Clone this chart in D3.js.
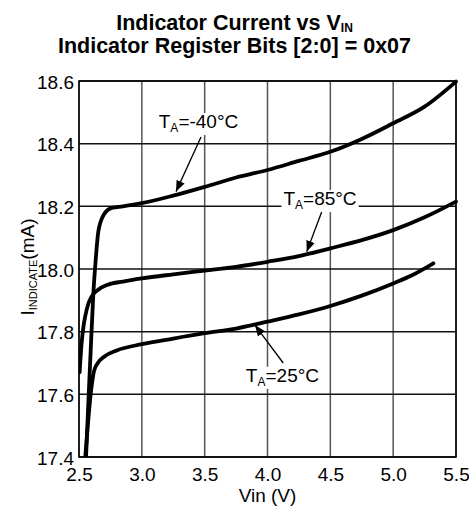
<!DOCTYPE html>
<html>
<head>
<meta charset="utf-8">
<script src="https://cdn.jsdelivr.net/npm/d3@7"></script>
<style>
  html, body { margin: 0; padding: 0; background: #fff; }
  svg { display: block; font-family: "Liberation Sans", Arial, Helvetica, sans-serif; }
</style>
</head>
<body>
<svg id="chart" width="469" height="513"></svg>
<script>
// ---- data ----
const xTicks = [2.5, 3.0, 3.5, 4.0, 4.5, 5.0, 5.5];
const yTicks = [17.4, 17.6, 17.8, 18.0, 18.2, 18.4, 18.6];

const vinM40 = [2.556, 2.574, 2.593, 2.614, 2.633, 2.654, 2.70, 2.76, 2.85, 3.0, 3.25, 3.5, 3.75, 4.0, 4.25, 4.5, 4.75, 5.0, 5.25, 5.5];
const iM40   = [17.40, 17.57, 17.74, 17.92, 18.03, 18.12, 18.175, 18.195, 18.20, 18.21, 18.234, 18.262, 18.292, 18.316, 18.345, 18.374, 18.415, 18.465, 18.518, 18.598];

const vin85 = [2.505, 2.52, 2.535, 2.55, 2.575, 2.60, 2.65, 2.73, 2.85, 3.0, 3.25, 3.5, 3.75, 4.0, 4.25, 4.5, 4.75, 5.0, 5.25, 5.5];
const i85   = [17.67, 17.76, 17.815, 17.85, 17.89, 17.912, 17.933, 17.950, 17.960, 17.970, 17.983, 17.995, 18.007, 18.023, 18.041, 18.066, 18.092, 18.124, 18.165, 18.215];

const vin25 = [2.55, 2.57, 2.59, 2.605, 2.62, 2.65, 2.70, 2.80, 3.0, 3.25, 3.5, 3.75, 4.0, 4.25, 4.5, 4.75, 5.0, 5.15, 5.32];
const i25   = [17.40, 17.50, 17.59, 17.64, 17.675, 17.70, 17.72, 17.74, 17.76, 17.778, 17.795, 17.81, 17.832, 17.855, 17.882, 17.915, 17.954, 17.98, 18.018];

// annotation labels
const annoNames = ["T", "T", "T"];
const annoSubs  = ["A", "A", "A"];
const annoRest  = ["=-40°C", "=85°C", "=25°C"];
const annoLabelV = [3.451, 4.418, 4.119];
const annoLabelI = [18.45, 18.204, 17.64];
const annoFromV = [3.471, 4.431, 4.125];
const annoFromI = [18.421, 18.182, 17.70];
const annoToV   = [3.272, 4.312, 3.90];
const annoToI   = [18.247, 18.055, 17.821];

const titleLine1 = "Indicator Current vs V";
const titleLine1Sub = "IN";
const titleLine2 = "Indicator Register Bits [2:0] = 0x07";
const xLabel = "Vin (V)";
const yLabelMain = "I";
const yLabelSub = "INDICATE";
const yLabelRest = "(mA)";

// ---- layout ----
const svg = d3.select("#chart");
const m = { left: 79, top: 81, right: 13, bottom: 56 };
const W = 469, H = 513;
const pw = W - m.left - m.right;   // 377
const ph = H - m.top - m.bottom;   // 376

const x = d3.scaleLinear().domain([2.5, 5.5]).range([m.left, m.left + pw]);
const y = d3.scaleLinear().domain([17.4, 18.6]).range([m.top + ph, m.top]);

// grid
const g = svg.append("g");
g.selectAll("line.vg").data(xTicks).join("line")
  .attr("x1", d => x(d)).attr("x2", d => x(d))
  .attr("y1", y(17.4)).attr("y2", y(18.6))
  .attr("stroke", "#555").attr("stroke-width", 1.5);
g.selectAll("line.hg").data(yTicks).join("line")
  .attr("y1", d => y(d)).attr("y2", d => y(d))
  .attr("x1", x(2.5)).attr("x2", x(5.5))
  .attr("stroke", "#111").attr("stroke-width", 1.5);
svg.append("rect")
  .attr("x", x(2.5)).attr("y", y(18.6))
  .attr("width", x(5.5) - x(2.5)).attr("height", y(17.4) - y(18.6))
  .attr("fill", "none").attr("stroke", "#000").attr("stroke-width", 1.5);

// axes tick labels via d3 axes
const xAxis = d3.axisBottom(x).tickValues(xTicks).tickFormat(d3.format(".1f")).tickSize(0).tickPadding(11);
const yAxis = d3.axisLeft(y).tickValues(yTicks).tickFormat(d3.format(".1f")).tickSize(0).tickPadding(5);
const gx = svg.append("g").attr("transform", `translate(0,${y(17.4)})`).call(xAxis);
const gy = svg.append("g").attr("transform", `translate(${x(2.5)},0)`).call(yAxis);
[gx, gy].forEach(a => {
  a.select(".domain").remove();
  a.selectAll("text").attr("font-size", 19).attr("fill", "#000")
    .attr("font-family", "'Liberation Sans', Arial, sans-serif");
});
gx.selectAll("text").attr("dy", "0.71em");
gy.selectAll("text").attr("dy", "0.38em");

// curves
const line = d3.line().x(d => x(d[0])).y(d => y(d[1])).curve(d3.curveMonotoneX);
const series = [
  d3.zip(vinM40, iM40),
  d3.zip(vin85, i85),
  d3.zip(vin25, i25)
];
svg.append("defs").append("clipPath").attr("id", "clip")
  .append("rect").attr("x", x(2.5)).attr("y", y(18.6) - 2)
  .attr("width", x(5.5) - x(2.5) + 2).attr("height", y(17.4) - y(18.6) + 2);
svg.append("g").attr("clip-path", "url(#clip)")
  .selectAll("path").data(series).join("path")
  .attr("d", line).attr("fill", "none").attr("stroke", "#000")
  .attr("stroke-width", 3.8).attr("stroke-linejoin", "round").attr("stroke-linecap", "round");

// annotations
const defs = svg.select("defs");
defs.append("marker").attr("id", "arrow").attr("viewBox", "0 0 10 10")
  .attr("refX", 10).attr("refY", 5).attr("markerWidth", 11).attr("markerHeight", 11)
  .attr("markerUnits", "userSpaceOnUse").attr("orient", "auto")
  .append("path").attr("d", "M0,1 L10,5 L0,9 Z").attr("fill", "#000");

annoNames.forEach((nm, k) => {
  const ag = svg.append("g");
  const bg = ag.append("rect").attr("fill", "#fff");
  const t = ag.append("text")
    .attr("x", x(annoLabelV[k])).attr("y", y(annoLabelI[k]))
    .attr("text-anchor", "middle").attr("font-size", 19).attr("fill", "#000");
  t.append("tspan").text(nm);
  t.append("tspan").text(annoSubs[k]).attr("font-size", 12).attr("dy", 4);
  t.append("tspan").text(annoRest[k]).attr("dy", -4);
  const bb = t.node().getBBox();
  bg.attr("x", bb.x - 2).attr("y", bb.y + 2).attr("width", bb.width + 4).attr("height", bb.height - 2);
  ag.append("line")
    .attr("x1", x(annoFromV[k])).attr("y1", y(annoFromI[k]))
    .attr("x2", x(annoToV[k])).attr("y2", y(annoToI[k]))
    .attr("stroke", "#000").attr("stroke-width", 1.3)
    .attr("marker-end", "url(#arrow)");
});

// titles
const t1 = svg.append("text").attr("x", W / 2).attr("y", 30)
  .attr("text-anchor", "middle").attr("font-size", 21.5).attr("font-weight", "bold");
t1.append("tspan").text(titleLine1);
t1.append("tspan").text(titleLine1Sub).attr("font-size", 12).attr("dy", 1.5);
svg.append("text").attr("x", W / 2).attr("y", 53)
  .attr("text-anchor", "middle").attr("font-size", 21.5).attr("font-weight", "bold")
  .text(titleLine2);

// axis titles
svg.append("text").attr("x", x(4.0)).attr("y", 502)
  .attr("text-anchor", "middle").attr("font-size", 19).text(xLabel);

const yl = svg.append("text")
  .attr("transform", `translate(34,${(y(17.4) + y(18.6)) / 2 - 2}) rotate(-90)`)
  .attr("text-anchor", "middle").attr("font-size", 19);
yl.append("tspan").text(yLabelMain);
yl.append("tspan").text(yLabelSub).attr("font-size", 11).attr("dy", 3);
yl.append("tspan").text(yLabelRest).attr("dy", -3);
</script>
</body>
</html>
